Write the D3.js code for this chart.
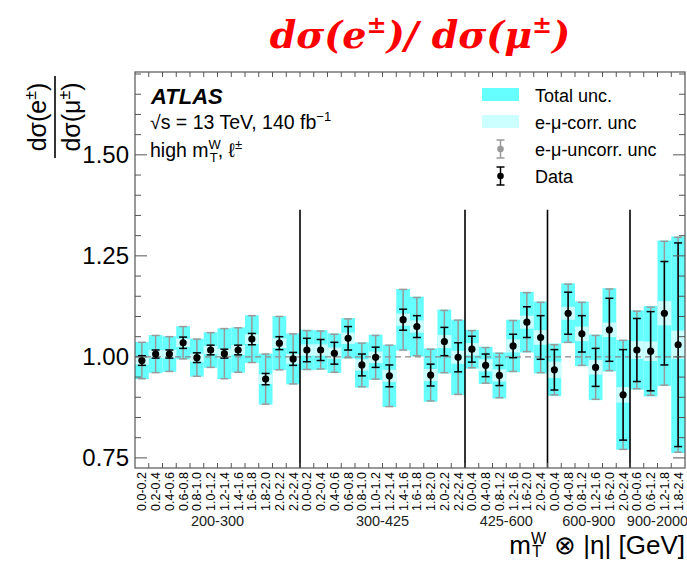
<!DOCTYPE html>
<html>
  <head>
    <meta charset="utf-8">
    <title>e/mu ratio</title>
    <script src="https://d3js.org/d3.v7.min.js"></script>
    <style>
      body { margin: 0; background: #fff; }
      svg text { font-family: "Liberation Sans", Arial, sans-serif; fill: #000; }
    </style>
  </head>
  <body>
    <div class="chart"></div>
    <script>
      /*
       * data
       */
      var massBins = ["200-300", "300-425", "425-600", "600-900", "900-2000"];
      var etaLabels = [
        ["0.0-0.2","0.2-0.4","0.4-0.6","0.6-0.8","0.8-1.0","1.0-1.2","1.2-1.4","1.4-1.6","1.6-1.8","1.8-2.0","2.0-2.2","2.2-2.4"],
        ["0.0-0.2","0.2-0.4","0.4-0.6","0.6-0.8","0.8-1.0","1.0-1.2","1.2-1.4","1.4-1.6","1.6-1.8","1.8-2.0","2.0-2.2","2.2-2.4"],
        ["0.0-0.4","0.4-0.8","0.8-1.2","1.2-1.6","1.6-2.0","2.0-2.4"],
        ["0.0-0.4","0.4-0.8","0.8-1.2","1.2-1.6","1.6-2.0","2.0-2.4"],
        ["0.0-0.6","0.6-1.2","1.2-1.8","1.8-2.4"]
      ];
      var ratio = [0.991, 1.007, 1.007, 1.035, 0.998, 1.017, 1.008, 1.017, 1.044, 0.945, 1.034, 0.995,
                   1.017, 1.017, 1.009, 1.046, 0.980, 0.999, 0.953, 1.092, 1.075, 0.955, 1.038, 0.999,
                   1.019, 0.979, 0.954, 1.027, 1.086, 1.048,
                   0.968, 1.108, 1.057, 0.974, 1.067, 0.906,
                   1.017, 1.014, 1.108, 1.030];
      var totalUnc = [0.046, 0.047, 0.044, 0.041, 0.047, 0.044, 0.063, 0.056, 0.059, 0.063, 0.067, 0.063,
                      0.050, 0.049, 0.049, 0.050, 0.056, 0.056, 0.077, 0.076, 0.074, 0.066, 0.079, 0.093,
                      0.048, 0.046, 0.057, 0.065, 0.075, 0.089,
                      0.065, 0.074, 0.080, 0.081, 0.103, 0.136,
                      0.098, 0.112, 0.180, 0.268];
      var corrUnc = [0.010, 0.010, 0.010, 0.010, 0.010, 0.010, 0.012, 0.012, 0.012, 0.012, 0.012, 0.012,
                     0.014, 0.014, 0.014, 0.014, 0.014, 0.014, 0.015, 0.015, 0.015, 0.015, 0.016, 0.016,
                     0.015, 0.015, 0.015, 0.016, 0.016, 0.018,
                     0.020, 0.016, 0.018, 0.018, 0.018, 0.019,
                     0.022, 0.024, 0.030, 0.035];
      var uncorrUnc = [0.045, 0.046, 0.043, 0.040, 0.046, 0.043, 0.062, 0.055, 0.058, 0.062, 0.066, 0.062,
                       0.048, 0.047, 0.047, 0.048, 0.054, 0.054, 0.076, 0.075, 0.072, 0.064, 0.077, 0.092,
                       0.046, 0.044, 0.055, 0.063, 0.073, 0.087,
                       0.062, 0.072, 0.078, 0.079, 0.101, 0.135,
                       0.096, 0.109, 0.178, 0.266];
      var dataErr = [0.012, 0.010, 0.010, 0.014, 0.012, 0.012, 0.011, 0.012, 0.014, 0.014, 0.016, 0.016,
                     0.029, 0.026, 0.027, 0.029, 0.027, 0.025, 0.027, 0.026, 0.027, 0.027, 0.035, 0.036,
                     0.032, 0.028, 0.025, 0.029, 0.038, 0.054,
                     0.050, 0.052, 0.045, 0.047, 0.078, 0.112,
                     0.078, 0.098, 0.128, 0.252];
      var yTicks = [0.75, 1.00, 1.25, 1.50];
      var sepTop = 1.364;

      var bins = [];
      etaLabels.forEach(function(g, gi) {
        g.forEach(function(l) { bins.push({ group: gi, label: l }); });
      });
      bins.forEach(function(b, i) {
        b.i = i; b.v = ratio[i]; b.tot = totalUnc[i]; b.corr = corrUnc[i];
        b.unc = uncorrUnc[i]; b.err = dataErr[i];
      });
      var groupStart = [];
      var acc = 0;
      etaLabels.forEach(function(g) { groupStart.push(acc); acc += g.length; });

      /*
       * layout
       */
      var W = 687, H = 561;
      var pLeft = 135, pRight = 685, pTop = 72, pBottom = 468;

      var svg = d3.select(".chart").append("svg")
        .attr("width", W)
        .attr("height", H);

      var x = d3.scaleLinear().domain([0, bins.length]).range([pLeft, pRight]);
      var xBand = d3.scaleBand().domain(d3.range(bins.length)).range([pLeft, pRight]);
      var y = d3.scaleLinear().domain([0.725, 1.705]).range([pBottom, pTop]);
      var bw = xBand.bandwidth();

      // total unc band
      svg.append("g").selectAll("rect")
        .data(bins).enter().append("rect")
          .attr("x", function(d) { return xBand(d.i); })
          .attr("width", bw)
          .attr("y", function(d) { return y(d.v + d.tot); })
          .attr("height", function(d) { return y(d.v - d.tot) - y(d.v + d.tot); })
          .attr("fill", "#66ffff");

      // correlated unc band
      svg.append("g").selectAll("rect")
        .data(bins).enter().append("rect")
          .attr("x", function(d) { return xBand(d.i); })
          .attr("width", bw)
          .attr("y", function(d) { return y(d.v + d.corr); })
          .attr("height", function(d) { return y(d.v - d.corr) - y(d.v + d.corr); })
          .attr("fill", "#ccffff");

      // reference line at 1
      svg.append("line")
        .attr("x1", pLeft).attr("x2", pRight)
        .attr("y1", y(1)).attr("y2", y(1))
        .attr("stroke", "#888")
        .attr("stroke-width", 1.3)
        .attr("stroke-dasharray", "6,4");

      function errorBars(cls, key, color, cap) {
        var g = svg.append("g").attr("class", cls).attr("stroke", color).attr("stroke-width", 1.5);
        var cx = function(d) { return xBand(d.i) + bw / 2; };
        g.selectAll("line.v").data(bins).enter().append("line")
          .attr("x1", cx).attr("x2", cx)
          .attr("y1", function(d) { return y(d.v + d[key]); })
          .attr("y2", function(d) { return y(d.v - d[key]); });
        [1, -1].forEach(function(s) {
          g.selectAll("line.c" + s).data(bins).enter().append("line")
            .attr("x1", function(d) { return cx(d) - cap; })
            .attr("x2", function(d) { return cx(d) + cap; })
            .attr("y1", function(d) { return y(d.v + s * d[key]); })
            .attr("y2", function(d) { return y(d.v + s * d[key]); });
        });
      }
      errorBars("uncorr", "unc", "#999", 4);
      errorBars("data", "err", "#000", 4);

      svg.append("g").selectAll("circle")
        .data(bins).enter().append("circle")
          .attr("cx", function(d) { return xBand(d.i) + bw / 2; })
          .attr("cy", function(d) { return y(d.v); })
          .attr("r", 3.6)
          .attr("fill", "#000");

      // mass bin separators
      svg.append("g").selectAll("line")
        .data(groupStart.slice(1)).enter().append("line")
          .attr("x1", function(d) { return x(d); })
          .attr("x2", function(d) { return x(d); })
          .attr("y1", y(sepTop))
          .attr("y2", pBottom)
          .attr("stroke", "#000")
          .attr("stroke-width", 1.6);

      /*
       * axes (ROOT style, inward ticks)
       */
      var frameColor = "#555";
      svg.append("rect")
        .attr("x", pLeft).attr("y", pTop)
        .attr("width", pRight - pLeft).attr("height", pBottom - pTop)
        .attr("fill", "none")
        .attr("stroke", frameColor)
        .attr("stroke-width", 1.2);

      var minor = d3.range(0.75, 1.705, 0.05).map(function(v) { return +v.toFixed(2); });
      var ticks = svg.append("g").attr("stroke", frameColor).attr("stroke-width", 1);
      minor.forEach(function(v) {
        var major = yTicks.indexOf(v) >= 0;
        var len = major ? 12 : 6;
        ticks.append("line").attr("x1", pLeft).attr("x2", pLeft + len).attr("y1", y(v)).attr("y2", y(v));
        ticks.append("line").attr("x1", pRight).attr("x2", pRight - len).attr("y1", y(v)).attr("y2", y(v));
      });
      d3.range(1, bins.length).forEach(function(i) {
        ticks.append("line").attr("x1", x(i)).attr("x2", x(i)).attr("y1", pBottom).attr("y2", pBottom - 5);
        ticks.append("line").attr("x1", x(i)).attr("x2", x(i)).attr("y1", pTop).attr("y2", pTop + 5);
      });

      var yAxis = svg.append("g")
        .attr("transform", "translate(" + pLeft + ",0)")
        .call(d3.axisLeft(y).tickValues(yTicks).tickFormat(d3.format(".2f")).tickSize(0).tickPadding(6));
      yAxis.select(".domain").remove();
      yAxis.selectAll("text").style("font-size", "24px").attr("fill", "#000");

      var xAxis = svg.append("g")
        .attr("transform", "translate(0," + pBottom + ")")
        .call(d3.axisBottom(xBand).tickSize(0).tickFormat(function(i) { return bins[i].label; }));
      xAxis.select(".domain").remove();
      xAxis.selectAll("text")
        .style("font-size", "12.5px")
        .attr("fill", "#000")
        .attr("transform", "rotate(-90)")
        .attr("text-anchor", "end")
        .attr("x", -4)
        .attr("y", 0)
        .attr("dy", "0.35em");

      svg.append("g").selectAll("text")
        .data(massBins).enter().append("text")
          .attr("x", function(d, gi) { return x(groupStart[gi] + etaLabels[gi].length / 2); })
          .attr("y", 526)
          .attr("text-anchor", "middle")
          .style("font-size", "14.5px")
          .style("fill", "#222")
          .text(function(d) { return d; });

      // x title
      var xt = svg.append("text")
        .attr("x", pRight).attr("y", 554)
        .attr("text-anchor", "end")
        .style("font-size", "26px");
      xt.append("tspan").text("m");
      xt.append("tspan").attr("dy", -10).style("font-size", "16px").text("W");
      xt.append("tspan").attr("dx", -14).attr("dy", 13).style("font-size", "16px").text("T");
      xt.append("tspan").attr("dx", 5).attr("dy", -3).text(" \u2297 |\u03b7| [GeV]");

      // y title as a fraction
      var yt = svg.append("g").attr("transform", "translate(55,117) rotate(-90)");
      yt.append("line").attr("x1", -41).attr("x2", 41).attr("y1", 0).attr("y2", 0)
        .attr("stroke", "#000").attr("stroke-width", 1.6);
      function frac(yy, sym) {
        var t = yt.append("text").attr("x", 0).attr("y", yy).attr("text-anchor", "middle").style("font-size", "25px");
        t.append("tspan").text("d\u03c3(" + sym);
        t.append("tspan").attr("dy", -10).style("font-size", "16px").text("\u00b1");
        t.append("tspan").attr("dy", 10).text(")");
      }
      frac(-9, "e");
      frac(25, "\u03bc");

      // ATLAS label
      svg.append("text").attr("x", 151).attr("y", 104)
        .style("font-size", "22px").style("font-weight", "bold").style("font-style", "italic")
        .text("ATLAS");
      var l2 = svg.append("text").attr("x", 150).attr("y", 129).style("font-size", "19.5px");
      l2.append("tspan").text("\u221as = 13 TeV, 140 fb");
      l2.append("tspan").attr("dy", -8).style("font-size", "13px").text("\u22121");
      var l3 = svg.append("text").attr("x", 150).attr("y", 157).style("font-size", "19.5px");
      l3.append("tspan").text("high m");
      l3.append("tspan").attr("dy", -8).style("font-size", "13px").text("W");
      l3.append("tspan").attr("dx", -11).attr("dy", 13).style("font-size", "13px").text("T");
      l3.append("tspan").attr("dy", -5).text(", \u2113");
      l3.append("tspan").attr("dy", -8).style("font-size", "13px").text("\u00b1");

      // legend
      var legend = [
        { label: "Total unc.", type: "box", color: "#66ffff" },
        { label: "e-\u03bc-corr. unc", type: "box", color: "#ccffff" },
        { label: "e-\u03bc-uncorr. unc", type: "bar", color: "#999" },
        { label: "Data", type: "bar", color: "#000" }
      ];
      var lg = svg.append("g").selectAll("g")
        .data(legend).enter().append("g")
          .attr("transform", function(d, i) { return "translate(0," + (95 + i * 27) + ")"; });
      lg.filter(function(d) { return d.type === "box"; }).append("rect")
        .attr("x", 482).attr("y", -7).attr("width", 37).attr("height", 13)
        .attr("fill", function(d) { return d.color; });
      var bars = lg.filter(function(d) { return d.type === "bar"; });
      bars.append("line").attr("x1", 500.5).attr("x2", 500.5).attr("y1", -9).attr("y2", 9)
        .attr("stroke", function(d) { return d.color; }).attr("stroke-width", 1.5);
      [-9, 9].forEach(function(cy) {
        bars.append("line").attr("x1", 496.5).attr("x2", 504.5).attr("y1", cy).attr("y2", cy)
          .attr("stroke", function(d) { return d.color; }).attr("stroke-width", 1.5);
      });
      bars.append("circle").attr("cx", 500.5).attr("cy", 0).attr("r", 3.3)
        .attr("fill", function(d) { return d.color; });
      lg.append("text").attr("x", 535).attr("y", 6.5)
        .style("font-size", "18px")
        .text(function(d) { return d.label; });

      // red title
      var tt = svg.append("text").attr("x", 420).attr("y", 48)
        .attr("text-anchor", "middle")
        .style("font-family", "'DejaVu Serif', serif")
        .style("font-size", "38px").style("font-weight", "bold").style("font-style", "italic")
        .style("fill", "#ff0000");
      tt.append("tspan").text("d\u03c3(e");
      tt.append("tspan").attr("dy", -15).style("font-size", "24px").text("\u00b1");
      tt.append("tspan").attr("dy", 15).text(")/ d\u03c3(\u03bc");
      tt.append("tspan").attr("dy", -15).style("font-size", "24px").text("\u00b1");
      tt.append("tspan").attr("dy", 15).text(")");
    </script>
  </body>
</html>
